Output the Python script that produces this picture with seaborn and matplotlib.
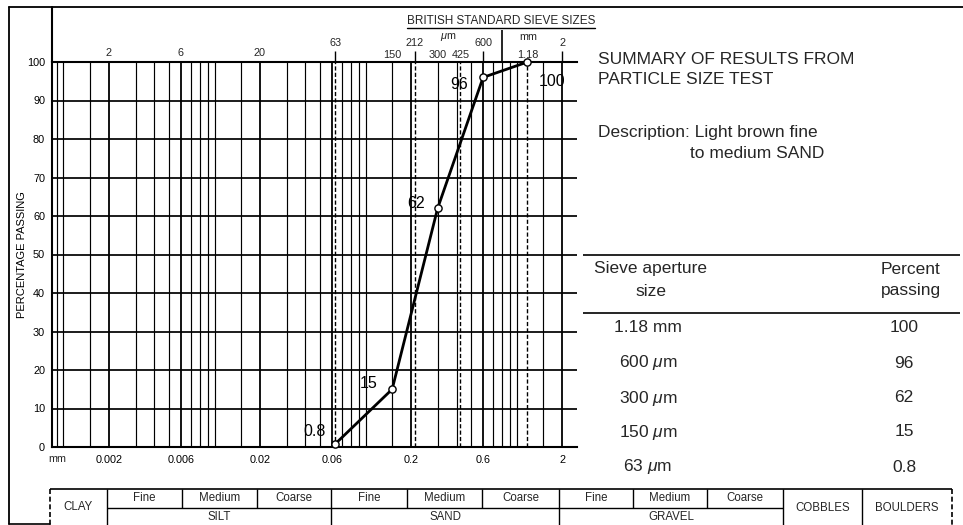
import matplotlib
matplotlib.use("Agg")
import matplotlib.pyplot as plt
from matplotlib.ticker import NullLocator
import numpy as np
import pandas as pd
import seaborn as sns

# ---------------- data ----------------
sieve_size_mm = [0.063, 0.15, 0.3, 0.6, 1.18]
percent_passing = [0.8, 15, 62, 96, 100]
point_labels = ["0.8", "15", "62", "96", "100"]

table_sieve_labels = ["1.18 mm", r"600 $\mu$m", r"300 $\mu$m", r"150 $\mu$m", r"63 $\mu$m"]
table_percent_labels = ["100", "96", "62", "15", "0.8"]

y_tick_values = [0, 10, 20, 30, 40, 50, 60, 70, 80, 90, 100]
bottom_tick_values = [0.002, 0.006, 0.02, 0.06, 0.2, 0.6, 2]
bottom_tick_labels = ["0.002", "0.006", "0.02", "0.06", "0.2", "0.6", "2"]

micron_top_values = [0.002, 0.006, 0.02]
micron_top_labels = ["2", "6", "20"]

bs_sieve_values = [0.063, 0.15, 0.212, 0.3, 0.425, 0.6, 1.18, 2]
bs_sieve_labels = ["63", "150", "212", "300", "425", "600", "1.18", "2"]
dashed_sieve_values = [0.063, 0.212, 0.425, 1.18]

grid_multipliers = [1, 1.5, 2, 3, 4, 5, 6, 7, 8, 9]
grid_decades = [1e-4, 1e-3, 1e-2, 1e-1, 1e0]

main_classes = ["CLAY", "SILT", "SAND", "GRAVEL", "COBBLES", "BOULDERS"]
sub_classes = ["Fine", "Medium", "Coarse"]

# ---------------- style ----------------
sns.set_theme(style="white")
plt.rcParams["font.family"] = ["Liberation Sans", "DejaVu Sans"]
plt.rcParams["mathtext.fontset"] = "custom"
plt.rcParams["mathtext.rm"] = "Liberation Sans"
plt.rcParams["mathtext.it"] = "Liberation Sans:italic"

W, H = 963, 525
fig = plt.figure(figsize=(W / 100, H / 100), dpi=100, facecolor="white")

# overlay axes in pixel coordinates for frame / tables
ov = fig.add_axes([0, 0, 1, 1], zorder=0)
ov.set_xlim(0, W)
ov.set_ylim(H, 0)
ov.axis("off")

# main chart axes
L, R, T, B = 52, 577, 62, 447
ax = fig.add_axes([L / W, (H - B) / H, (R - L) / W, (B - T) / H], zorder=1)
ax.set_xscale("log")
XMIN, XMAX = 0.00084, 2.51
ax.set_xlim(XMIN, XMAX)
ax.set_ylim(0, 100)

# grid lines
grid_vals = [m * d for d in grid_decades for m in grid_multipliers]
grid_vals = [g for g in grid_vals if XMIN < g < XMAX]
thick = set(np.round(bottom_tick_values, 6))
thin_vals = [g for g in grid_vals if round(g, 6) not in thick]
ax.vlines(thin_vals, 0, 100, color="black", lw=0.85, zorder=1)
ax.vlines(bottom_tick_values, 0, 100, color="black", lw=1.3, zorder=1)
ax.hlines(y_tick_values[1:-1], XMIN, XMAX, color="black", lw=1.25, zorder=1)
ax.vlines(dashed_sieve_values, 0, 100, color="black", lw=1.0,
          linestyles=(0, (3, 1.6)), zorder=2)

# spines
for s in ["left", "bottom", "top"]:
    ax.spines[s].set_color("black")
    ax.spines[s].set_linewidth(1.5)
ax.spines["right"].set_visible(False)

ax.set_xticks(bottom_tick_values, bottom_tick_labels)
ax.xaxis.set_minor_locator(NullLocator())
ax.set_yticks(y_tick_values)
ax.tick_params(axis="both", which="both", length=0, labelsize=7.8, colors="black")
ax.tick_params(axis="x", pad=5.5)
ax.tick_params(axis="y", pad=5)

# curve
df = pd.DataFrame({"size_mm": sieve_size_mm, "passing": percent_passing})
sns.lineplot(data=df, x="size_mm", y="passing", ax=ax, color="black",
             linewidth=2.0, marker="o", markersize=5.2, markerfacecolor="white",
             markeredgecolor="black", markeredgewidth=1.0, clip_on=False,
             zorder=6, legend=False)
ax.set_xlabel("")
ax.set_ylabel("PERCENTAGE PASSING", fontsize=8, color="black")
ax.yaxis.set_label_coords(-0.047, 0.5)

label_offsets = [(-10, 12, "right"), (-15, 6, "right"), (-13, 5, "right"),
                 (-15, -7, "right"), (11, -20, "left")]
for xv, yv, lab, (dx, dy, ha) in zip(sieve_size_mm, percent_passing, point_labels, label_offsets):
    ax.annotate(lab, (xv, yv), xytext=(dx, dy), textcoords="offset pixels",
                ha=ha, va="center", fontsize=11.5, color="black", zorder=7)

# top labels (micron sizes and BS sieve sizes)
def ypx(p):
    return (B - p) / ((B - T) / 100.0)

for xv, lab in zip(micron_top_values, micron_top_labels):
    ax.text(xv, ypx(53), lab, ha="center", va="center", fontsize=7.8)
upper_row = {"63", "212", "600", "2"}
for xv, lab in zip(bs_sieve_values, bs_sieve_labels):
    yy = ypx(43) if lab in upper_row else ypx(55)
    ax.text(xv, yy, lab, ha="center", va="center", fontsize=7.8)
ax.vlines([v for v, l in zip(bs_sieve_values, bs_sieve_labels) if l in upper_row],
          100, ypx(51), color="black", lw=1.0, clip_on=False)
ax.vlines([0.8], 100, ypx(30), color="black", lw=1.2, clip_on=False)
ax.text(0.352, ypx(37), r"$\mu$m", ha="center", va="center", fontsize=7.8)
ax.text(1.2, ypx(37), "mm", ha="center", va="center", fontsize=7.8)

bt = ov.text(407, 21, "BRITISH STANDARD SIEVE SIZES", ha="left", va="center", fontsize=8.5)

# frame
ov.plot([9, W], [7, 7], color="black", lw=1.3)
ov.plot([9, 9], [7, 524], color="black", lw=1.3)
ov.plot([9, 50], [524, 524], color="black", lw=1.2)
ov.plot([L, L], [7, T], color="black", lw=1.5)
ov.text(57, 459, "mm", ha="center", va="center", fontsize=7.8)

# summary on right
FS = 12.5
ov.text(598, 60, "SUMMARY OF RESULTS FROM", ha="left", va="center", fontsize=FS)
ov.text(598, 80, "PARTICLE SIZE TEST", ha="left", va="center", fontsize=FS)
ov.text(598, 133, "Description: Light brown fine", ha="left", va="center", fontsize=FS)
ov.text(690, 153, "to medium SAND", ha="left", va="center", fontsize=FS)
ov.hlines([255, 313], 583, 960, color="black", lw=1.2)
ov.text(651, 269, "Sieve aperture", ha="center", va="center", fontsize=FS)
ov.text(651, 291, "size", ha="center", va="center", fontsize=FS)
ov.text(911, 269, "Percent", ha="center", va="center", fontsize=FS)
ov.text(911, 291, "passing", ha="center", va="center", fontsize=FS)
row_y = [328, 363, 398, 432, 467]
for yy, s, p in zip(row_y, table_sieve_labels, table_percent_labels):
    ov.text(648, yy, s, ha="center", va="center", fontsize=FS)
    ov.text(904, yy, p, ha="center", va="center", fontsize=FS)

# classification table
CF = 8.3
edges = [50, 107, 182, 257, 331, 407, 482, 559, 633, 707, 783, 862, 952]
t_top, t_mid, t_bot = 489, 508, 526
ov.hlines(t_top, edges[0], edges[-1], color="black", lw=1.2)
ov.hlines(t_mid, edges[1], edges[10], color="black", lw=1.0)
ov.vlines([edges[0], edges[-1]], t_top, t_bot, color="black", lw=1.2, linestyles=(0, (3, 1.6)))
ov.vlines([edges[1], edges[4], edges[7], edges[10], edges[11]], t_top, t_bot, color="black", lw=1.0)
ov.vlines([edges[2], edges[3], edges[5], edges[6], edges[8], edges[9]], t_top, t_mid, color="black", lw=1.0)
ov.text((edges[0] + edges[1]) / 2, 507, main_classes[0], ha="center", va="center", fontsize=CF)
for gi, name in enumerate(main_classes[1:4]):
    start = 1 + 3 * gi
    for k, sub in enumerate(sub_classes):
        ov.text((edges[start + k] + edges[start + k + 1]) / 2, 498, sub,
                ha="center", va="center", fontsize=CF)
    ov.text((edges[start] + edges[start + 3]) / 2, 517, name, ha="center", va="center", fontsize=CF)
ov.text((edges[10] + edges[11]) / 2, 508, main_classes[4], ha="center", va="center", fontsize=CF)
ov.text((edges[11] + edges[12]) / 2, 508, main_classes[5], ha="center", va="center", fontsize=CF)

# underline for BS heading
fig.canvas.draw()
bb = bt.get_window_extent()
inv = ov.transData.inverted()
(x0, _), (x1, _) = inv.transform([(bb.x0, bb.y0), (bb.x1, bb.y1)])
ov.plot([x0, x1], [28, 28], color="black", lw=1.0)

fig.savefig("out.png", dpi=100, facecolor="white")
